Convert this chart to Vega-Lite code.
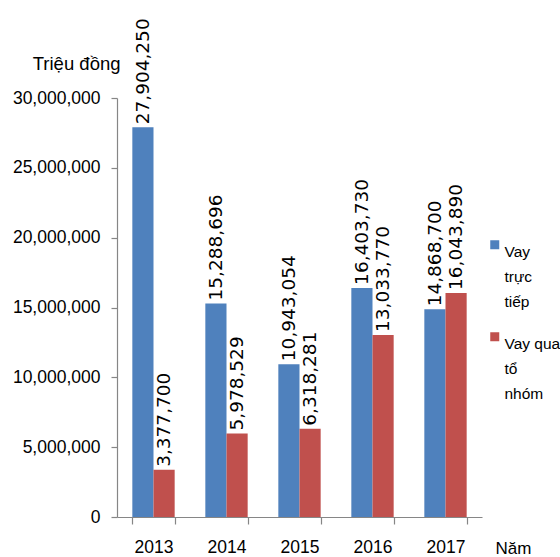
{
  "$schema": "https://vega.github.io/schema/vega-lite/v6.json",
  "autosize": {"type": "none"},
  "padding": {"left": 117, "top": 98, "right": 78, "bottom": 40},
  "width": 365,
  "height": 419,
  "background": "white",
  "data": {
    "values": [
      {"year": "2013", "series": "Vay trực tiếp", "value": 27904250},
      {"year": "2013", "series": "Vay qua tổ nhóm", "value": 3377700},
      {"year": "2014", "series": "Vay trực tiếp", "value": 15288696},
      {"year": "2014", "series": "Vay qua tổ nhóm", "value": 5978529},
      {"year": "2015", "series": "Vay trực tiếp", "value": 10943054},
      {"year": "2015", "series": "Vay qua tổ nhóm", "value": 6318281},
      {"year": "2016", "series": "Vay trực tiếp", "value": 16403730},
      {"year": "2016", "series": "Vay qua tổ nhóm", "value": 13033770},
      {"year": "2017", "series": "Vay trực tiếp", "value": 14868700},
      {"year": "2017", "series": "Vay qua tổ nhóm", "value": 16043890}
    ]
  },
  "encoding": {
    "x": {
      "field": "year", "type": "nominal",
      "scale": {"paddingInner": 0.42, "paddingOuter": 0.21},
      "axis": {
        "title": "Năm", "labelAngle": 0, "tickBand": "extent",
        "titleX": 378, "titleY": 36, "titleAlign": "left", "titleBaseline": "alphabetic", "titleFontSize": 17,
        "labelPadding": 14, "tickSize": 7
      }
    },
    "xOffset": {"field": "series", "type": "nominal", "sort": ["Vay trực tiếp", "Vay qua tổ nhóm"]},
    "y": {
      "field": "value", "type": "quantitative",
      "scale": {"domain": [0, 30000000], "nice": false},
      "axis": {
        "title": "Triệu đồng", "titleAngle": 0, "titleX": 3, "titleY": -29,
        "titleAlign": "right", "titleBaseline": "alphabetic", "titleFontSize": 18.5,
        "values": [0, 5000000, 10000000, 15000000, 20000000, 25000000, 30000000],
        "format": ",d", "grid": false, "tickSize": 6, "labelPadding": 11
      }
    }
  },
  "layer": [
    {
      "mark": {"type": "bar"},
      "encoding": {
        "color": {
          "field": "series", "type": "nominal",
          "sort": ["Vay trực tiếp", "Vay qua tổ nhóm"],
          "scale": {"domain": ["Vay trực tiếp", "Vay qua tổ nhóm"], "range": ["#4F81BD", "#C0504D"]},
          "legend": {
            "title": null, "orient": "none", "legendX": 370, "legendY": 139,
            "symbolType": "square", "symbolSize": 81, "symbolStrokeWidth": 0,
            "labelFont": "Liberation Sans", "labelFontSize": 15.5, "labelColor": "#000000",
            "labelBaseline": "top", "labelOffset": 2, "rowPadding": 18,
            "labelExpr": "datum.label == 'Vay trực tiếp' ? ['Vay', 'trực', 'tiếp'] : ['Vay qua', 'tổ', 'nhóm']"
          }
        }
      }
    },
    {
      "mark": {"type": "text", "angle": 270, "align": "left", "baseline": "middle", "dx": 3, "font": "DejaVu Sans", "fontSize": 18.5, "color": "#000000"},
      "encoding": {
        "text": {"field": "value", "type": "quantitative", "format": ",d"}
      }
    }
  ],
  "config": {
    "view": {"stroke": null},
    "style": {"guide-label": {"lineHeight": 25}},
    "axis": {
      "labelFont": "Liberation Sans", "labelFontSize": 17.5, "labelColor": "#000000",
      "titleFont": "Liberation Sans", "titleFontWeight": "normal", "titleColor": "#000000",
      "domainColor": "#868686", "tickColor": "#868686", "domainWidth": 1.2, "tickWidth": 1.2
    }
  }
}
